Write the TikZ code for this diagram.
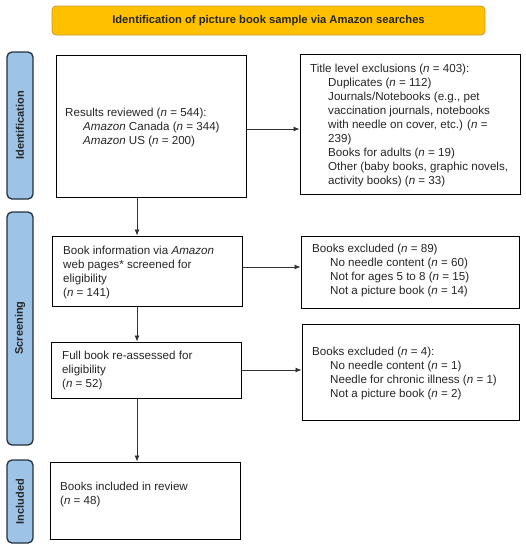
\documentclass[tikz,border=0pt]{standalone}
\usepackage{fontspec}
\setmainfont{Liberation Sans}
\usetikzlibrary{arrows.meta}
\definecolor{bannerfill}{HTML}{FFC000}
\definecolor{bannerdraw}{HTML}{C99A2E}
\definecolor{barfill}{HTML}{9DC3E6}
\definecolor{bardraw}{HTML}{22303C}
\definecolor{arrowcol}{HTML}{333333}
\newcommand{\nn}{\textit{n}}
\newcommand{\ind}{\hspace*{18pt}}
\begin{document}
\begin{tikzpicture}[x=1pt,y=-1pt,
  banner/.style={draw=bannerdraw, fill=bannerfill, line width=0.8pt, rounded corners=4pt,
    font=\fontsize{11.2}{13}\selectfont\bfseries, text=black!85},
  sidebar/.style={draw=bardraw, fill=barfill, line width=1.3pt, rounded corners=5pt},
  sidelabel/.style={rotate=90, font=\fontsize{11}{13}\selectfont\bfseries, text=black!85},
  flowbox/.style={draw=black, line width=1pt, inner sep=0pt},
  flowtext/.style={anchor=west, align=left, inner sep=0pt,
    font=\fontsize{11.6}{14}\selectfont, text=black!85},
  arr/.style={draw=arrowcol, line width=0.8pt, -{Latex[length=6pt,width=5pt]}}
]
\useasboundingbox (0,0) rectangle (526,550);
\fill[white] (0,0) rectangle (526,550);

% banner
\node[banner, minimum width=433, minimum height=29] (banner) at (268.5,20.5)
  {Identification of picture book sample via Amazon searches};

% side bars
\node[sidebar, minimum width=26, minimum height=147] (barI) at (20,125.5) {};
\node[sidelabel] (labI) at (barI.center) {Identification};
\node[sidebar, minimum width=26, minimum height=233] (barS) at (20,328.5) {};
\node[sidelabel] (labS) at (20,328) {Screening};
\node[sidebar, minimum width=26, minimum height=83] (barC) at (20,501.5) {};
\node[sidelabel] (labC) at (barC.center) {Included};

% left column boxes
\node[flowbox, minimum width=190, minimum height=142] (b1) at (151,126) {};
\node[flowtext] (t1) at (65,127) {Results reviewed (\nn{} = 544):\\
\ind\textit{Amazon} Canada (\nn{} = 344)\\
\ind\textit{Amazon} US (\nn{} = 200)};

\node[flowbox, minimum width=190, minimum height=70] (b2) at (147,271) {};
\node[flowtext] (t2) at (63,272) {Book information via \textit{Amazon}\\
web pages* screened for\\
eligibility\\
(\nn{} = 141)};

\node[flowbox, minimum width=190, minimum height=56] (b3) at (146,370) {};
\node[flowtext] (t3) at (62,370) {Full book re-assessed for\\
eligibility\\
(\nn{} = 52)};

\node[flowbox, minimum width=190, minimum height=77] (b4) at (145,500.5) {};
\node[flowtext] (t4) at (60,494) {Books included in review\\
(\nn{} = 48)};

% right column boxes
\node[flowbox, minimum width=220, minimum height=140] (r1) at (410,124) {};
\node[flowtext] (s1) at (310,125) {Title level exclusions (\nn{} = 403):\\
\ind Duplicates (\nn{} = 112)\\
\ind Journals/Notebooks (e.g., pet\\
\ind vaccination journals, notebooks\\
\ind with needle on cover, etc.) (\nn{} =\\
\ind 239)\\
\ind Books for adults (\nn{} = 19)\\
\ind Other (baby books, graphic novels,\\
\ind activity books) (\nn{} = 33)};

\node[flowbox, minimum width=218, minimum height=72] (r2) at (410,272) {};
\node[flowtext] (s2) at (312,270) {Books excluded (\nn{} = 89)\\
\ind No needle content (\nn{} = 60)\\
\ind Not for ages 5 to 8 (\nn{} = 15)\\
\ind Not a picture book (\nn{} = 14)};

\node[flowbox, minimum width=217, minimum height=96] (r3) at (410.5,372) {};
\node[flowtext] (s3) at (312,373) {Books excluded (\nn{} = 4):\\
\ind No needle content (\nn{} = 1)\\
\ind Needle for chronic illness (\nn{} = 1)\\
\ind Not a picture book (\nn{} = 2)};

% connectors
\coordinate (ax) at (137,0);
\draw[arr] (b1.south -| ax) -- (b2.north -| ax);
\draw[arr] (b2.south -| ax) -- (b3.north -| ax);
\draw[arr] (b3.south -| ax) -- (b4.north -| ax);
\coordinate (y1) at (0,129);
\coordinate (y2) at (0,267);
\draw[arr] (b1.east |- y1) -- (r1.west |- y1);
\draw[arr] (b2.east |- y2) -- (r2.west |- y2);
\draw[arr] (b3.east) -- (r3.west |- b3.east);
\end{tikzpicture}
\end{document}
